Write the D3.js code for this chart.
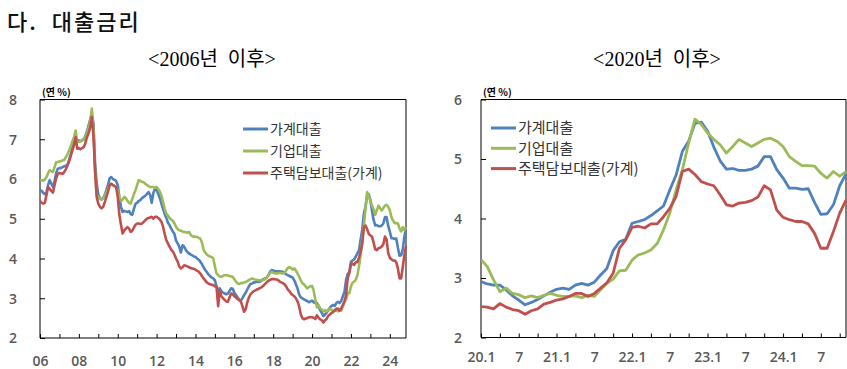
<!DOCTYPE html>
<html><head><meta charset="utf-8">
<script src="https://cdn.jsdelivr.net/npm/d3@7/dist/d3.min.js"></script>
<style>
body{margin:0;background:#fff;}
svg{display:block;}
.tick line{stroke:#000;}
.pre{white-space:pre;}
</style></head>
<body>
<svg id="c" width="847" height="369"></svg>
<script>
// ---------------- DATA ----------------
const seriesNames = ["가계대출", "기업대출", "주택담보대출(가계)"];
const seriesColors = ["#4F81BD", "#9BBB59", "#C0504D"];

// Monthly, Jan 2006 – Dec 2019 (연 %)
const hhHist = [
5.72,5.70,5.65,5.62,5.66,5.85,5.97,5.88,5.80,5.95,6.15,6.26,
6.27,6.28,6.30,6.32,6.33,6.36,6.48,6.62,6.78,6.90,7.05,6.98,
6.97,6.95,6.98,7.00,7.08,7.20,7.35,7.50,7.62,7.40,6.40,5.90,
5.60,5.52,5.48,5.52,5.60,5.72,5.85,6.02,6.05,6.00,5.98,5.95,
5.85,5.55,5.30,5.17,5.20,5.18,5.17,5.19,5.12,5.10,5.25,5.38,
5.40,5.45,5.47,5.52,5.55,5.58,5.62,5.67,5.60,5.40,5.65,5.76,
5.72,5.63,5.52,5.38,5.25,5.12,5.02,4.90,4.84,4.75,4.68,4.62,
4.45,4.38,4.30,4.15,4.33,4.30,4.22,4.16,4.13,4.10,4.08,4.05,
4.04,4.00,3.97,3.92,3.86,3.78,3.71,3.66,3.60,3.56,3.52,3.50,
3.45,3.30,3.20,3.25,3.18,3.14,3.12,3.10,3.12,3.18,3.25,3.24,
3.14,3.08,3.02,2.96,2.94,3.00,3.08,3.14,3.22,3.30,3.36,3.37,
3.40,3.40,3.42,3.41,3.42,3.45,3.48,3.50,3.52,3.58,3.66,3.71,
3.70,3.68,3.68,3.67,3.68,3.67,3.66,3.64,3.60,3.58,3.56,3.54,
3.52,3.45,3.35,3.25,3.10,3.02,3.00,2.97,2.95,2.93,2.90,2.92];
const corpHist = [
5.98,5.97,5.96,5.99,6.05,6.15,6.22,6.20,6.18,6.30,6.42,6.43,
6.44,6.45,6.47,6.48,6.55,6.62,6.72,6.82,6.95,7.05,7.22,6.93,
6.93,6.95,6.97,6.98,7.05,7.15,7.30,7.45,7.77,7.30,6.20,5.60,
5.55,5.50,5.50,5.52,5.58,5.66,5.75,5.85,5.88,5.85,5.82,5.80,
5.70,5.55,5.45,5.48,5.55,5.52,5.45,5.40,5.38,5.50,5.62,5.72,
5.85,5.97,5.95,5.93,5.92,5.88,5.85,5.82,5.80,5.80,5.80,5.78,
5.80,5.75,5.68,5.58,5.42,5.25,5.13,5.08,5.02,4.98,4.95,4.88,
4.80,4.74,4.71,4.70,4.68,4.67,4.66,4.65,4.67,4.60,4.56,4.55,
4.55,4.54,4.52,4.50,4.40,4.22,4.15,4.10,4.07,4.05,4.04,4.00,
3.80,3.63,3.58,3.55,3.54,3.56,3.58,3.58,3.57,3.56,3.55,3.54,
3.48,3.42,3.37,3.36,3.38,3.38,3.40,3.41,3.43,3.46,3.48,3.50,
3.48,3.47,3.46,3.46,3.45,3.46,3.46,3.48,3.52,3.58,3.63,3.67,
3.64,3.63,3.62,3.63,3.64,3.63,3.62,3.64,3.70,3.76,3.78,3.76,
3.72,3.75,3.70,3.62,3.55,3.45,3.38,3.35,3.30,3.25,3.28,3.30];
const mortHist = [
5.45,5.40,5.38,5.40,5.60,5.80,5.75,5.70,5.66,5.85,6.02,6.13,
6.15,6.14,6.13,6.18,6.25,6.34,6.45,6.59,6.72,6.85,7.05,6.76,
6.78,6.75,6.78,6.80,6.90,7.05,7.15,7.30,7.56,7.10,6.20,5.55,
5.38,5.30,5.26,5.30,5.42,5.55,5.68,5.85,5.88,5.85,5.82,5.80,
5.55,5.10,4.85,4.63,4.70,4.75,4.79,4.75,4.67,4.70,4.78,4.85,
4.88,4.88,4.87,4.88,4.92,4.96,5.00,5.02,5.03,5.05,5.00,5.05,
5.05,5.02,4.98,4.92,4.80,4.62,4.46,4.38,4.30,4.22,4.18,4.10,
4.00,3.92,3.80,3.75,3.78,3.83,3.82,3.80,3.78,3.76,3.75,3.74,
3.72,3.69,3.67,3.62,3.56,3.50,3.45,3.40,3.37,3.35,3.34,3.33,
3.30,3.28,2.80,3.20,3.05,3.00,2.96,2.92,2.91,3.02,3.12,3.10,
3.05,3.02,2.98,2.95,2.92,2.80,2.66,2.72,2.90,3.02,3.10,3.14,
3.18,3.20,3.22,3.24,3.26,3.28,3.32,3.36,3.40,3.44,3.46,3.48,
3.48,3.48,3.47,3.46,3.42,3.40,3.38,3.35,3.30,3.22,3.18,3.12,
3.08,3.05,3.00,2.92,2.80,2.60,2.50,2.47,2.49,2.50,2.52,2.53];

// Monthly, Jan 2020 – Nov 2024 (연 %)
const hhRecent = [
2.94,2.90,2.88,2.88,2.80,2.70,2.63,2.55,2.59,2.64,2.70,2.76,
2.81,2.83,2.81,2.88,2.91,2.88,2.93,3.05,3.16,3.46,3.61,3.65,
3.92,3.95,3.98,4.05,4.13,4.21,4.48,4.73,5.13,5.30,5.60,5.62,
5.47,5.20,4.97,4.83,4.84,4.81,4.81,4.83,4.88,5.04,5.04,4.82,
4.68,4.51,4.51,4.49,4.50,4.27,4.07,4.08,4.23,4.55,4.75];
const corpRecent = [
3.31,3.19,2.97,2.77,2.83,2.74,2.72,2.67,2.70,2.67,2.71,2.74,
2.71,2.69,2.69,2.70,2.67,2.71,2.69,2.80,2.91,2.98,3.12,3.13,
3.30,3.39,3.42,3.47,3.58,3.81,4.09,4.48,4.82,5.27,5.67,5.58,
5.44,5.33,5.24,5.10,5.21,5.33,5.27,5.21,5.27,5.33,5.35,5.30,
5.21,5.04,4.96,4.89,4.89,4.88,4.76,4.68,4.79,4.71,4.79];
const mortRecent = [
2.52,2.51,2.48,2.57,2.51,2.47,2.45,2.39,2.45,2.48,2.56,2.59,
2.63,2.65,2.69,2.74,2.74,2.69,2.74,2.83,2.92,3.08,3.50,3.64,
3.85,3.87,3.84,3.91,3.91,4.03,4.17,4.37,4.79,4.83,4.74,4.62,
4.58,4.55,4.40,4.23,4.21,4.26,4.27,4.30,4.36,4.55,4.48,4.14,
4.02,3.98,3.95,3.95,3.91,3.75,3.50,3.50,3.78,4.09,4.31];

const leftYTicks = [2,3,4,5,6,7,8];
const leftXLabels = ["06","","08","","10","","12","","14","","16","","18","","20","","22","","24"];
const rightYTicks = [2,3,4,5,6];
const rightXLabels = ["20.1","","7","","21.1","","7","","22.1","","7","","23.1","","7","","24.1","","7",""];

// ---------------- DRAW ----------------
const svg = d3.select("#c");
const KR = "'Noto Sans CJK KR','Noto Sans',sans-serif";
const SERIF = "'Liberation Serif','Noto Sans CJK KR',serif";
const NUM = "'Open Sans','Noto Sans',sans-serif";

svg.append("text").attr("x",7).attr("y",30).attr("font-family",KR).attr("font-size",22)
  .attr("font-weight",500).attr("letter-spacing",2).attr("fill","#111")
  .attr("class","pre").text("다.  대출금리");

function chart(cfg){
  const g = svg.append("g");
  const x = d3.scaleLinear().domain(cfg.xDomain).range([cfg.left, cfg.right]);
  const y = d3.scaleLinear().domain(cfg.yDomain).range([cfg.bottom, cfg.top]);

  g.append("text").attr("x",cfg.titleX).attr("y",66).attr("text-anchor","middle")
   .attr("class","pre").attr("font-family",SERIF).attr("font-size",20).attr("fill","#000").text(cfg.title);

  g.append("text").attr("x",cfg.left+2).attr("y",cfg.top-4).attr("font-family",KR)
   .attr("font-size",10).attr("font-weight",700).attr("fill","#000").text("(연 %)");

  const clipId = "clip"+cfg.id;
  svg.append("clipPath").attr("id",clipId).append("rect")
    .attr("x",cfg.left).attr("y",cfg.top-10).attr("width",cfg.right-cfg.left+1).attr("height",cfg.bottom-cfg.top+10);

  // axes
  const ya = d3.axisLeft(y).tickValues(cfg.yTicks).tickSize(-5).tickFormat(d3.format("d"));
  const yg = g.append("g").attr("transform",`translate(${cfg.left},0)`).call(ya);
  yg.select(".domain").remove();
  yg.selectAll("text").attr("text-anchor","middle").attr("x",cfg.yLabelDx).attr("dy","0.35em")
    .attr("font-family",NUM).attr("font-size",14).attr("font-weight",600).attr("fill","#595959");

  const xa = d3.axisBottom(x).tickValues(cfg.xTickVals).tickSize(-4).tickFormat((d,i)=>cfg.xLabels[i]);
  const xg = g.append("g").attr("transform",`translate(0,${cfg.bottom})`).call(xa);
  xg.select(".domain").remove();
  xg.selectAll("text").attr("y",cfg.xLabelDy).attr("dy","0.35em")
    .attr("font-family",NUM).attr("font-size",14).attr("font-weight",600).attr("fill","#595959");

  // frame
  g.append("path").attr("d",`M${cfg.left},${cfg.top}H${cfg.right}V${cfg.bottom}H${cfg.left}Z`)
   .attr("stroke","#000").attr("stroke-width",1).attr("fill","none");

  // lines
  const line = d3.line().x((d,i)=>x(i)).y(d=>y(d));
  const lg = g.append("g").attr("clip-path",`url(#${clipId})`);
  cfg.series.forEach((s,k)=>{
    lg.append("path").datum(s).attr("d",line).attr("fill","none")
      .attr("stroke",seriesColors[k]).attr("stroke-width",cfg.lw).attr("stroke-linejoin","round");
  });

  // legend
  seriesNames.forEach((n,k)=>{
    const yy = cfg.legY + k*cfg.legDy;
    g.append("line").attr("x1",cfg.legX).attr("x2",cfg.legX+cfg.legW).attr("y1",yy).attr("y2",yy)
      .attr("stroke",seriesColors[k]).attr("stroke-width",3);
    g.append("text").attr("x",cfg.legX+cfg.legW+2).attr("y",yy).attr("dy","0.36em")
      .attr("font-family",KR).attr("font-size",cfg.legFs).attr("fill","#333").text(n);
  });
}

const leftSeries = [hhHist.concat(hhRecent), corpHist.concat(corpRecent), mortHist.concat(mortRecent)];
chart({
  id:"L", title:"<2006년  이후>", titleX:212,
  left:40, right:406, top:99.5, bottom:338,
  xDomain:[0, leftSeries[0].length-1],
  yDomain:[2,8], yTicks:leftYTicks, yLabelDx:-27,
  xTickVals:d3.range(0,217,12), xLabels:leftXLabels, xLabelDy:23,
  series:leftSeries, lw:2.6,
  legX:243, legW:25, legY:129, legDy:22, legFs:14
});
chart({
  id:"R", title:"<2020년  이후>", titleX:657,
  left:481, right:846, top:99.5, bottom:337.5,
  xDomain:[0, hhRecent.length-1],
  yDomain:[2,6], yTicks:rightYTicks, yLabelDx:-23,
  xTickVals:d3.range(0,58,3), xLabels:rightXLabels, xLabelDy:20,
  series:[hhRecent, corpRecent, mortRecent], lw:2.8,
  legX:491, legW:25, legY:128, legDy:20.3, legFs:15
});
</script>
</body></html>
